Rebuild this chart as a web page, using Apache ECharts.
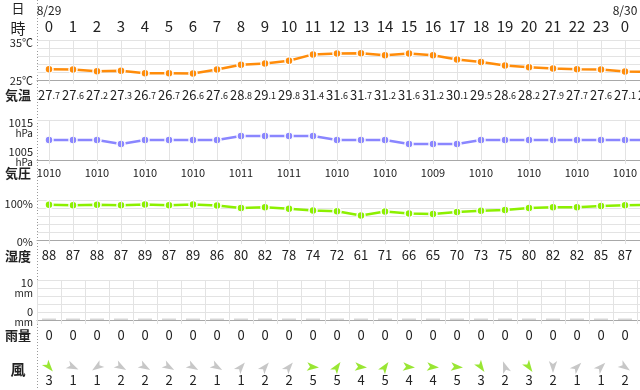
<!DOCTYPE html>
<html><head><meta charset="utf-8">
<script src="https://cdn.jsdelivr.net/npm/echarts@6/dist/echarts.min.js"></script>
<style>html,body{margin:0;padding:0;background:#fff}#c{width:640px;height:390px}</style>
</head><body><div id="c"></div>
<script>
// ---- data ----
const hours = ['0','1','2','3','4','5','6','7','8','9','10','11','12','13','14','15','16','17','18','19','20','21','22','23','0','1'];
const dates = ['8/29','','','','','','','','','','','','','','','','','','','','','','','','8/30',''];
const temperature = [27.7,27.6,27.2,27.3,26.7,26.7,26.6,27.6,28.8,29.1,29.8,31.4,31.6,31.7,31.2,31.6,31.2,30.1,29.5,28.6,28.2,27.9,27.7,27.6,27.1,27.0];
const pressure = [1010,1010,1010,1009,1010,1010,1010,1010,1011,1011,1011,1011,1010,1010,1010,1009,1009,1009,1010,1010,1010,1010,1010,1010,1010,1010];
const humidity = [88,87,88,87,89,87,89,86,80,82,78,74,72,61,71,66,65,70,73,75,80,82,82,85,87,88];
const rainfall = [0,0,0,0,0,0,0,0,0,0,0,0,0,0,0,0,0,0,0,0,0,0,0,0,0,0];
const windSpeed = [3,1,1,2,2,2,2,1,1,2,2,5,5,4,5,4,4,5,3,2,3,2,1,1,2,2];
const windHeading = [140,115,235,120,120,120,120,120,40,40,40,95,35,95,35,95,95,95,145,340,145,180,45,45,125,125];
const rowTitles = ['日','時','気温','気圧','湿度','雨量','風'];

// ---- layout / style ----
const FONT = '"Noto Sans CJK JP","Noto Sans",sans-serif';
const L = 37, CW = 24, W = CW * hours.length;
const TXT = '#222';
const GRIDC = '#e3e3e3', AXISC = '#a8a8a8';
const cTemp = '#ff8c0a', cPres = '#8a86ff', cHum = '#8cf000', cWindHi = '#80e000', cWindLo = '#b9b9b9';
const ARROW = 'path://M5,0 L10,12 L5,9 L0,12 Z';

const chart = echarts.init(document.getElementById('c'), null, {renderer: 'canvas'});

function vLines(xIdx, yIdx) {
  return {
    type: 'line', xAxisIndex: xIdx, yAxisIndex: yIdx, data: [], silent: true, z: 1,
    symbol: 'none', lineStyle: {opacity: 0},
    markLine: {
      silent: true, symbol: 'none', animation: false, label: {show: false},
      lineStyle: {type: 'solid', color: GRIDC, width: 1},
      data: hours.map((h, i) => ({xAxis: i}))
    }
  };
}
function lineSeries(xIdx, yIdx, data, color) {
  return {
    type: 'line', xAxisIndex: xIdx, yAxisIndex: yIdx, data: data, z: 3,
    symbol: 'circle', symbolSize: 8, color: color,
    lineStyle: {width: 2.5, color: color},
    itemStyle: {color: color, borderColor: '#fff', borderWidth: 1.5}
  };
}
function gridAt(top, height) {
  return {left: L, top: top, width: W, height: height, containLabel: false, outerBoundsMode: 'none'};
}
const yBase = {
  type: 'value', axisLine: {show: false}, axisTick: {show: false},
  splitLine: {show: true, lineStyle: {color: GRIDC, width: 1}}
};
const catBase = {
  type: 'category', boundaryGap: true,
  axisLine: {show: true, lineStyle: {color: AXISC, width: 1}},
  axisTick: {show: true, alignWithLabel: true, length: 4, lineStyle: {color: GRIDC}},
  splitLine: {show: false}
};

const option = {
  animation: false,
  backgroundColor: '#fff',
  textStyle: {fontFamily: FONT},
  grid: [gridAt(40, 40), gridAt(120, 40), gridAt(200, 40), gridAt(280, 40), gridAt(361, 12)],
  xAxis: [
    {type: 'category', gridIndex: 0, position: 'top', data: hours,
      axisLine: {show: false}, axisTick: {show: false},
      axisLabel: {interval: 0, margin: 6, fontSize: 15, color: TXT, fontFamily: FONT}},
    {type: 'category', gridIndex: 0, position: 'top', data: dates,
      axisLine: {show: false}, axisTick: {show: false},
      axisLabel: {interval: 0, margin: 24, fontSize: 12, color: TXT, fontFamily: FONT}},
    Object.assign({}, catBase, {gridIndex: 0, position: 'bottom', data: temperature.map(v => v.toFixed(1)),
      axisLabel: {interval: 0, margin: 9, color: TXT, fontFamily: FONT,
        formatter: function (v) { const p = v.split('.'); return '{i|' + p[0] + '}{d|.' + p[1] + '}'; },
        rich: {i: {fontSize: 13, color: TXT, fontFamily: FONT}, d: {fontSize: 9, color: TXT, fontFamily: FONT}}}}),
    Object.assign({}, catBase, {gridIndex: 1, position: 'bottom', data: pressure.map(String),
      axisLabel: {interval: 1, margin: 7, fontSize: 11, color: TXT, fontFamily: FONT}}),
    Object.assign({}, catBase, {gridIndex: 2, position: 'bottom', data: humidity.map(String),
      axisLabel: {interval: 0, margin: 9, fontSize: 13, color: TXT, fontFamily: FONT}}),
    Object.assign({}, catBase, {gridIndex: 3, position: 'bottom', data: rainfall.map(String),
      axisTick: {show: true, alignWithLabel: false, length: 4, lineStyle: {color: GRIDC}},
      splitLine: {show: true, lineStyle: {color: GRIDC, width: 1}},
      axisLabel: {interval: 0, margin: 9, fontSize: 13, color: TXT, fontFamily: FONT}}),
    {type: 'category', gridIndex: 4, position: 'bottom', data: windSpeed.map(String),
      axisLine: {show: false}, axisTick: {show: false},
      axisLabel: {interval: 0, margin: 1, fontSize: 13, color: TXT, fontFamily: FONT}}
  ],
  yAxis: [
    Object.assign({}, yBase, {gridIndex: 0, min: 25, max: 35, interval: 2,
      axisLabel: {margin: 4, color: TXT, fontFamily: FONT,
        formatter: v => v === 35 ? '{t|35℃}' : v === 25 ? '{b|25℃}' : '',
        rich: {t: {fontSize: 11, padding: [6, 0, 0, 0]}, b: {fontSize: 11, padding: [2, 0, 0, 0]}}}}),
    Object.assign({}, yBase, {gridIndex: 1, min: 1005, max: 1015, interval: 10,
      axisLabel: {margin: 4, color: TXT, fontFamily: FONT, align: 'right',
        formatter: v => v === 1015 ? '{t|1015}\n{u|hPa}' : '{n|1005}\n{ub|hPa}',
        rich: {t: {fontSize: 11, padding: [16, 0, 0, 0], align: 'right'}, u: {fontSize: 10, align: 'right'},
               n: {fontSize: 11, align: 'right'}, ub: {fontSize: 10, padding: [0, 0, 6, 0], align: 'right'}}}}),
    Object.assign({}, yBase, {gridIndex: 2, min: 0, max: 100, interval: 20,
      axisLabel: {margin: 4, color: TXT, fontFamily: FONT,
        formatter: v => v === 100 ? '{t|100%}' : v === 0 ? '{b|0%}' : '',
        rich: {t: {fontSize: 11, padding: [8, 0, 0, 0]}, b: {fontSize: 11, padding: [4, 0, 0, 0]}}}}),
    Object.assign({}, yBase, {gridIndex: 3, min: 0, max: 10, interval: 2,
      axisLabel: {margin: 4, color: TXT, fontFamily: FONT, align: 'right',
        formatter: v => v === 10 ? '{t|10}\n{u|mm}' : v === 0 ? '{n|0}\n{ub|mm}' : '',
        rich: {t: {fontSize: 11, padding: [16, 0, 0, 0], align: 'right'}, u: {fontSize: 10, align: 'right'},
               n: {fontSize: 11, align: 'right'}, ub: {fontSize: 10, padding: [0, 0, 6, 0], align: 'right'}}}}),
    {type: 'value', gridIndex: 4, min: 0, max: 1, show: false, splitLine: {show: false}}
  ],
  series: [
    vLines(2, 0),
    lineSeries(2, 0, temperature, cTemp),
    vLines(3, 1),
    lineSeries(3, 1, pressure, cPres),
    vLines(4, 2),
    lineSeries(4, 2, humidity, cHum),
    {type: 'bar', xAxisIndex: 5, yAxisIndex: 3, data: rainfall, barWidth: 14, barMinHeight: 1.5,
      itemStyle: {color: '#d6d6d6'}, silent: true},
    {type: 'scatter', xAxisIndex: 6, yAxisIndex: 4, clip: false, symbol: ARROW, symbolSize: [10, 12], symbolKeepAspect: true,
      data: windSpeed.map((s, i) => ({value: [i, 0.5], symbolRotate: -windHeading[i],
        itemStyle: {color: s >= 3 ? cWindHi : cWindLo}})), silent: true}
  ],
  graphic: [
    {type: 'line', silent: true, shape: {x1: L + 0.5, y1: 0, x2: L + 0.5, y2: 390},
      style: {stroke: '#9a9a9a', lineWidth: 1, lineDash: [1, 2]}},
    ...rowTitles.map((t, i) => ({
      type: 'text', silent: true,
      x: 18, y: [8, 28, 95, 173, 256, 335, 369][i],
      style: {text: t, fill: TXT, font: (i < 2 ? 'normal ' + (i === 0 ? 13 : 15) : 'bold ' + (i === 6 ? 15 : 13)) + 'px ' + FONT,
        textAlign: 'center', textVerticalAlign: 'middle'}
    }))
  ]
};
chart.setOption(option);
</script>
</body></html>
